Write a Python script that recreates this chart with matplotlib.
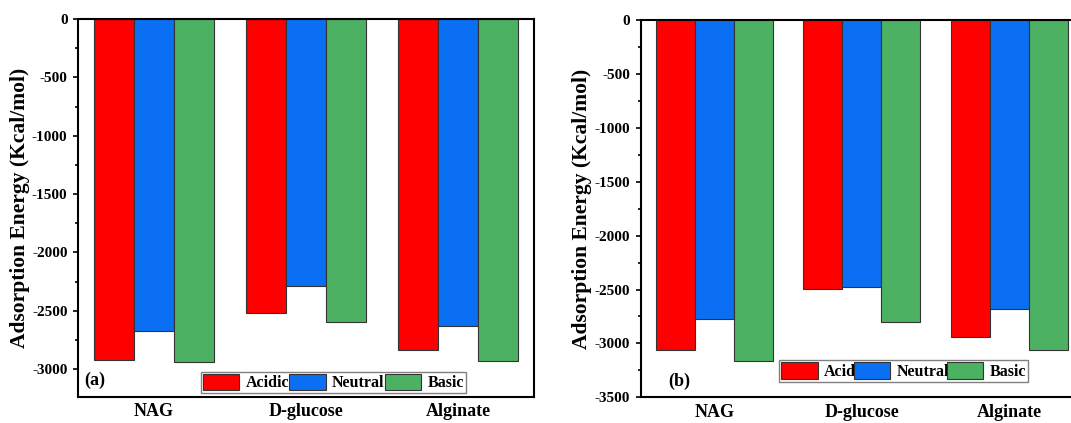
import numpy as np
import matplotlib.pyplot as plt
from matplotlib.ticker import MultipleLocator

plt.rcParams['font.family'] = ['Liberation Serif', 'DejaVu Serif']
plt.rcParams['font.weight'] = 'bold'
plt.rcParams['axes.unicode_minus'] = False

categories = ["NAG", "D-glucose", "Alginate"]

# panel (a)
acidicA = [-2925, -2521, -2834]
neutralA = [-2676, -2289, -2633]
basicA = [-2937, -2599, -2931]

# panel (b)
acidicB = [-3064, -2497, -2940]
neutralB = [-2770, -2476, -2677]
basicB = [-3163, -2804, -3064]

colors = ["#FF0000", "#0B6FF3", "#4DB163"]
w = 0.265
x = np.arange(len(categories))

fig = plt.figure(figsize=(10.71, 4.23), dpi=100)
axA = fig.add_axes([78 / 1071, 26 / 423, 456 / 1071, 378 / 423])
axB = fig.add_axes([640.7 / 1071, 25.7 / 423, 442.3 / 1071, 377.3 / 423])


def draw(ax, series, labels, ymin, tag, tagpos, legpos, colsp, labx):
    for i, (vals, lab) in enumerate(zip(series, labels)):
        ax.bar(x + (i - 1) * w, vals, w, color=colors[i], edgecolor="#333333",
               linewidth=0.8, label=lab)
    ax.set_xlim(-0.5, 2.5)
    ax.set_ylim(ymin, 0)
    ax.yaxis.set_major_locator(MultipleLocator(500))
    ax.yaxis.set_minor_locator(MultipleLocator(250))
    ax.set_xticks(x)
    ax.set_xticklabels(categories, fontsize=13, fontweight="bold")
    ax.tick_params(axis="x", length=0, pad=4.5)
    ax.tick_params(axis="y", which="major", length=3.5, width=1.2, pad=4,
                   labelsize=11)
    ax.tick_params(axis="y", which="minor", length=2, width=1.2)
    for lab in ax.get_yticklabels():
        lab.set_fontweight("bold")
    for s in ax.spines.values():
        s.set_linewidth(1.5)
    ax.set_ylabel("Adsorption Energy (Kcal/mol)", fontsize=15.5, fontweight="bold")
    ax.yaxis.set_label_coords(labx, 0.5)
    ax.text(tagpos[0], tagpos[1], tag, transform=ax.transAxes, fontsize=13,
            fontweight="bold", va="center", ha="left")
    leg = ax.legend(ncol=3, loc="lower left", bbox_to_anchor=legpos,
                    borderaxespad=0, fontsize=11.5, handlelength=2.29,
                    handleheight=1.19, handletextpad=0.4, columnspacing=colsp,
                    borderpad=0.12, fancybox=False, framealpha=1,
                    edgecolor="#808080")
    leg.get_frame().set_linewidth(1.0)
    for t in leg.get_texts():
        t.set_fontweight("bold")


draw(axA, [acidicA, neutralA, basicA], ["Acidic", "Neutral", "Basic"], -3240,
     "(a)", (0.013, 0.045), (0.269, 0.0106), 0.0, -0.105)
draw(axB, [acidicB, neutralB, basicB], ["Acid", "Neutral", "Basic"], -3500,
     "(b)", (0.062, 0.041), (0.313, 0.041), -0.15, -0.11)

plt.savefig("out.png", dpi=100)
